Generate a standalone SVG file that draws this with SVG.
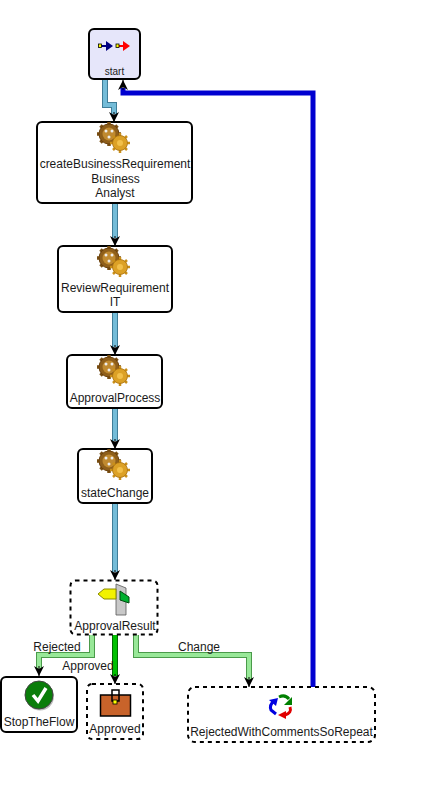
<svg xmlns="http://www.w3.org/2000/svg" width="431" height="789" viewBox="0 0 431 789">
<style>
text{font-family:"Liberation Sans",Arial,sans-serif;font-size:12px;fill:#1a1a1a;text-anchor:middle}
.box{fill:#fff;stroke:#000;stroke-width:2}
.dash{fill:#fff;stroke:#000;stroke-width:2;stroke-dasharray:4 4}
.edge{fill:none;stroke-linejoin:miter}
.o{stroke:#3f7d98;stroke-width:6}
.i{stroke:#74bcd8;stroke-width:4}
.go{stroke:#4a9a4a;stroke-width:6}
.gi{stroke:#98e898;stroke-width:4}
</style>
<defs>
<marker id="ah" markerUnits="userSpaceOnUse" markerWidth="12" markerHeight="10" refX="10" refY="5" orient="auto"><path d="M0 0L10 5L0 10L3 5Z" fill="#000"/></marker>
<g id="gears">
<g stroke-width="3.500" stroke="#7a4f12" fill="none"><path d="M-3 -12V12M-15 0H9M-11.500 -8.500L5.500 8.500M5.500 -8.500L-11.500 8.500"/></g>
<circle cx="-3" cy="0" r="10" fill="#8f5f1a" stroke="#6a400c"/>
<circle cx="-3" cy="0" r="6.500" fill="#c08a30"/>
<circle cx="-6" cy="-3" r="1.500" fill="#eee"/><circle cx="0" cy="-3" r="1.500" fill="#eee"/><circle cx="-3" cy="3" r="1.500" fill="#eee"/>
<g stroke-width="2.500" stroke="#c98f1a" fill="none"><path d="M8 -1V19M-2 9H18M1 2L15 16M15 2L1 16"/></g>
<circle cx="8" cy="9" r="7.500" fill="#dca126" stroke="#a8700f" stroke-width="0.800"/>
<circle cx="8" cy="9" r="3" fill="#f2c04a"/>
</g>
</defs>
<g id="connectors">
<path class="edge o" d="M105 79V105H114V114"/><path class="edge i" d="M105 79V105H114V114"/>
<path class="edge" d="M114 112V122" stroke="#000" stroke-width="1" marker-end="url(#ah)"/>
<path class="edge o" d="M115 203V238"/><path class="edge i" d="M115 203V238"/>
<path class="edge" d="M115 236V246" stroke="#000" stroke-width="1" marker-end="url(#ah)"/>
<path class="edge o" d="M115 312V347"/><path class="edge i" d="M115 312V347"/>
<path class="edge" d="M115 345V355" stroke="#000" stroke-width="1" marker-end="url(#ah)"/>
<path class="edge o" d="M115 408V441"/><path class="edge i" d="M115 408V441"/>
<path class="edge" d="M115 439V449" stroke="#000" stroke-width="1" marker-end="url(#ah)"/>
<path class="edge o" d="M115 503V572"/><path class="edge i" d="M115 503V572"/>
<path class="edge" d="M115 570V580" stroke="#000" stroke-width="1" marker-end="url(#ah)"/>
<path class="edge go" d="M92 635V655H39V669"/><path class="edge gi" d="M92 635V655H39V669"/>
<path class="edge" d="M39 666V676" stroke="#000" stroke-width="1" marker-end="url(#ah)"/>
<path class="edge" d="M115 635V676" stroke="#006a00" stroke-width="6"/><path class="edge" d="M115 635V676" stroke="#00c000" stroke-width="4"/>
<path class="edge" d="M115 674V684" stroke="#000" stroke-width="1" marker-end="url(#ah)"/>
<path class="edge go" d="M136 635V655H249V680"/><path class="edge gi" d="M136 635V655H249V680"/>
<path class="edge" d="M249 677V687" stroke="#000" stroke-width="1" marker-end="url(#ah)"/>
<path class="edge" d="M313 687V93H123V88" stroke="#0000d0" stroke-width="5"/>
<path class="edge" d="M123 90V80" stroke="#000" stroke-width="1" marker-end="url(#ah)"/>
</g>
<g id="start">
<rect x="89" y="29" width="51" height="50" rx="5" fill="#e6e6fa" stroke="#000" stroke-width="2"/>
<path d="M99 46H108" stroke="#000080" stroke-width="2"/><path d="M106 41L113 46L106 51Z" fill="#000080"/>
<rect x="98.500" y="44" width="3" height="3.500" fill="#ff0" stroke="#000" stroke-width="0.800"/>
<path d="M116 46H124" stroke="#f00" stroke-width="2"/><path d="M123 41L130 46L123 51Z" fill="#f00"/>
<rect x="116" y="44" width="3" height="3.500" fill="#ff0" stroke="#000" stroke-width="0.800"/>
<text x="114.500" y="75" style="font-size:10px">start</text>
</g>
<g id="createBusinessRequirement">
<rect class="box" x="37" y="122" width="155" height="81" rx="5"/>
<use href="#gears" x="112" y="134"/>
<text x="115" y="168">createBusinessRequirement</text><text x="115.500" y="183">Business</text><text x="115" y="197">Analyst</text>
</g>
<g id="ReviewRequirement">
<rect class="box" x="58" y="246" width="114" height="66" rx="5"/>
<use href="#gears" x="112" y="258"/>
<text x="115" y="292">ReviewRequirement</text><text x="115" y="306">IT</text>
</g>
<g id="ApprovalProcess">
<rect class="box" x="67" y="355" width="95" height="53" rx="5"/>
<use href="#gears" x="112" y="367"/>
<text x="115" y="402">ApprovalProcess</text>
</g>
<g id="stateChange">
<rect class="box" x="78" y="449" width="74" height="54" rx="5"/>
<use href="#gears" x="112" y="461"/>
<text x="115" y="497">stateChange</text>
</g>
<g id="ApprovalResult">
<rect class="dash" x="70.500" y="580.500" width="87" height="54" rx="5"/>
<path d="M116 584L126 588V615H116Z" fill="#c8c8c8" stroke="#555" stroke-width="0.800"/>
<path d="M98 594L104 589H116V599H104Z" fill="#f2f200" stroke="#8a8a00"/>
<path d="M120 591L129 597V603L120 600Z" fill="#00b030" stroke="#004a10"/>
<text x="115" y="630">ApprovalResult</text>
</g>
<g id="StopTheFlow">
<rect class="box" x="1" y="677" width="76" height="55" rx="5"/>
<circle cx="40" cy="696.500" r="14" fill="#777" opacity="0.500"/>
<circle cx="39" cy="695" r="14" fill="#0a7d0a" stroke="#444"/>
<path d="M33 695L38 701L46 688" fill="none" stroke="#fff" stroke-width="3.500"/>
<text x="39" y="726">StopTheFlow</text>
</g>
<g id="Approved">
<rect class="dash" x="87" y="684" width="56" height="55" rx="5"/>
<rect x="100.500" y="695" width="30" height="21" fill="#c8632a" stroke="#000" stroke-width="1.500"/>
<rect x="112" y="690" width="7" height="11" fill="none" stroke="#000" stroke-width="1.500"/>
<rect x="113" y="700" width="4" height="4" fill="#ff0" stroke="#000" stroke-width="0.800"/>
<text x="115" y="733">Approved</text>
</g>
<g id="RejectedWithCommentsSoRepeat">
<rect class="dash" x="188" y="687" width="187" height="55" rx="7"/>
<path d="M274 701Q269 705 271 710L276 714" fill="none" stroke="#0000e0" stroke-width="3"/><path d="M269 700L278 698L276 706Z" fill="#0000e0"/>
<path d="M279 697Q285 694 289 699" fill="none" stroke="#008000" stroke-width="3"/><path d="M292 697V705H284Z" fill="#008000"/>
<path d="M290 707Q292 713 285 715" fill="none" stroke="#e00000" stroke-width="3"/><path d="M278 715L286 711V719Z" fill="#e00000"/>
<text x="281.500" y="736">RejectedWithCommentsSoRepeat</text>
</g>
<g id="labels">
<text x="57" y="651">Rejected</text>
<text x="88" y="670">Approved</text>
<text x="199" y="651">Change</text>
</g>
</svg>
